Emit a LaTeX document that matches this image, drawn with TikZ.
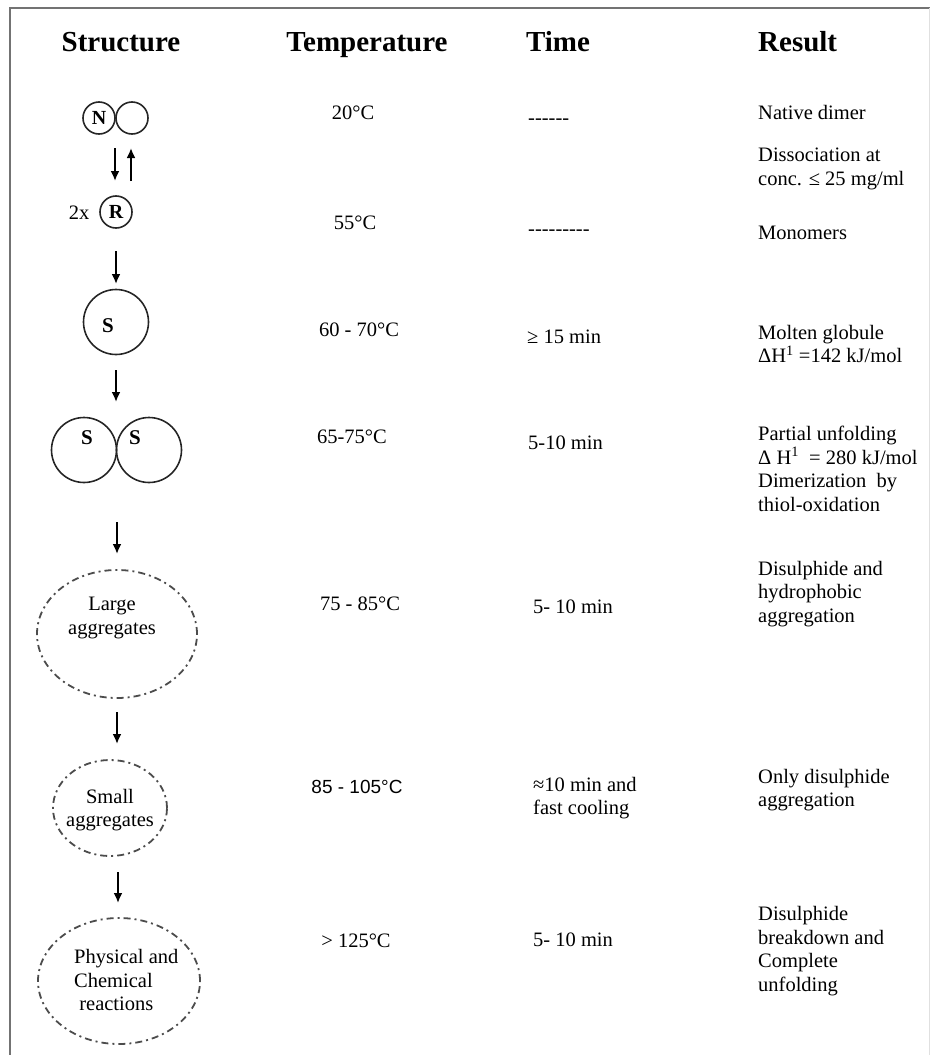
\documentclass[tikz,border=0pt]{standalone}
\usepackage{fontspec}
\setmainfont{Liberation Serif}
\newfontfamily\arialfont{Liberation Sans}
\usetikzlibrary{arrows.meta,shapes.geometric}
\newcommand{\hy}[1]{\foreach \i in {1,...,#1}{-{}}}
\begin{document}
\begin{tikzpicture}[x=1pt,y=-1pt,
  hdr/.style={font=\fontsize{29}{32}\selectfont\bfseries, inner sep=0pt, anchor=base},
  txt/.style={font=\fontsize{20.5}{23.5}\selectfont, inner sep=0pt, align=left},
  tl/.style={txt, anchor=west},
  ring/.style={draw=black!85, line width=1.6pt, circle, minimum size=32pt, inner sep=0pt, font=\fontsize{20}{22}\selectfont\bfseries},
  bigring/.style={draw=black!85, line width=1.6pt, circle, minimum size=65pt, inner sep=0pt},
  slabel/.style={font=\fontsize{21}{22}\selectfont\bfseries, inner sep=0pt},
  agg/.style={draw=black!70, line width=1.8pt, ellipse, inner sep=0pt, dash pattern=on 7pt off 4pt on 2pt off 4pt},
  flow/.style={line width=2pt, -{Latex[length=10pt,width=9pt]}},
  frame/.style={draw=black!55, line width=2.5pt},
]
\useasboundingbox (0,0) rectangle (930,1055);
% frame
\coordinate (fTL) at (10,8);
\coordinate (fTR) at (930,8);
\coordinate (fBL) at (10,1055);
\draw[frame] (fBL) -- (fTL) -- (fTR);
\draw[draw=black!12, line width=1pt] (929,8) -- (929,1055);

% headers
\node[hdr] (hS) at (121,51) {Structure};
\node[hdr] (hT) at (367,51) {Temperature};
\node[hdr] (hTi) at (558,51) {Time};
\node[hdr, anchor=base west] (hR) at (758,51) {Result};

% structures
\node[ring] (NL) at (99,118) {N};
\node[ring] (NR) at (132,118) {};
\node[ring] (R) at (116,212) {R};
\node[txt] (twox) at (79,213) {2x};
\node[bigring] (S1) at (116,322) {};
\node[slabel] (S1l) at (108,326) {S};
\node[bigring] (SSL) at (84,450) {};
\node[bigring] (SSR) at (149,450) {};
\node[slabel] (SSLl) at (87,438) {S};
\node[slabel] (SSRl) at (135,438) {S};
\node[agg, minimum width=160pt, minimum height=128pt] (large) at (117,634) {};
\node[txt, align=center] (largel) at (112,618) {Large\\aggregates};
\node[agg, minimum width=114pt, minimum height=96pt] (small) at (110,808) {};
\node[txt, align=center] (smalll) at (110,810) {Small\\aggregates};
\node[agg, minimum width=162pt, minimum height=126pt] (phys) at (119,981) {};
\node[txt, anchor=west] (physl) at (74,980) {Physical and\\Chemical\\\ reactions};

% arrows
\coordinate (a1s) at (115,148); \coordinate (a1e) at (115,181);
\coordinate (a2s) at (131,181); \coordinate (a2e) at (131,148);
\coordinate (a3s) at (116,251); \coordinate (a3e) at (116,284);
\coordinate (a4s) at (116,370); \coordinate (a4e) at (116,402);
\coordinate (a5s) at (117,522); \coordinate (a5e) at (117,554);
\coordinate (a6s) at (117,712); \coordinate (a6e) at (117,744);
\coordinate (a7s) at (118,872); \coordinate (a7e) at (118,903);
\draw[flow] (a1s) -- (a1e);
\draw[flow] (a2s) -- (a2e);
\draw[flow] (a3s) -- (a3e);
\draw[flow] (a4s) -- (a4e);
\draw[flow] (a5s) -- (a5e);
\draw[flow] (a6s) -- (a6e);
\draw[flow] (a7s) -- (a7e);

% temperature
\node[txt] (t1) at (353,113) {20°C};
\node[txt] (t2) at (355,223) {55°C};
\node[txt] (t3) at (359,330) {60 - 70°C};
\node[txt] (t4) at (352,437) {65-75°C};
\node[txt] (t5) at (360,604) {75 - 85°C};
\node[txt, font=\fontsize{19}{22}\selectfont\arialfont] (t6) at (357,787) {85 - 105°C};
\node[txt] (t7) at (356,941) {> 125°C};

% time
\node[tl] (ti1) at (528,122) {\hy{6}};
\node[tl] (ti2) at (528,233) {\hy{9}};
\node[tl] (ti3) at (527,337) {≥ 15 min};
\node[tl] (ti4) at (528,443) {5-10 min};
\node[tl] (ti5) at (533,607) {5- 10 min};
\node[tl] (ti6) at (533,798) {≈10 min and\\fast cooling};
\node[tl] (ti7) at (533,940) {5- 10 min};

% results
\node[tl] (r1) at (758,112) {Native dimer};
\node[tl] (r2) at (758,169) {Dissociation at\\conc. ≤ 25 mg/ml};
\node[tl] (r3) at (758,233) {Monomers};
\node[tl] (r4) at (758,344) {Molten globule\\ΔH\textsuperscript{1} =142 kJ/mol};
\node[tl] (r5) at (758,469) {Partial unfolding\\Δ H\textsuperscript{1}\ \ = 280 kJ/mol\\Dimerization\ \ by\\thiol-oxidation};
\node[tl] (r6) at (758,594) {Disulphide and\\hydrophobic\\aggregation};
\node[tl] (r7) at (758,790) {Only disulphide\\aggregation};
\node[tl] (r8) at (758,951) {Disulphide\\breakdown and\\Complete\\unfolding};
\end{tikzpicture}
\end{document}
